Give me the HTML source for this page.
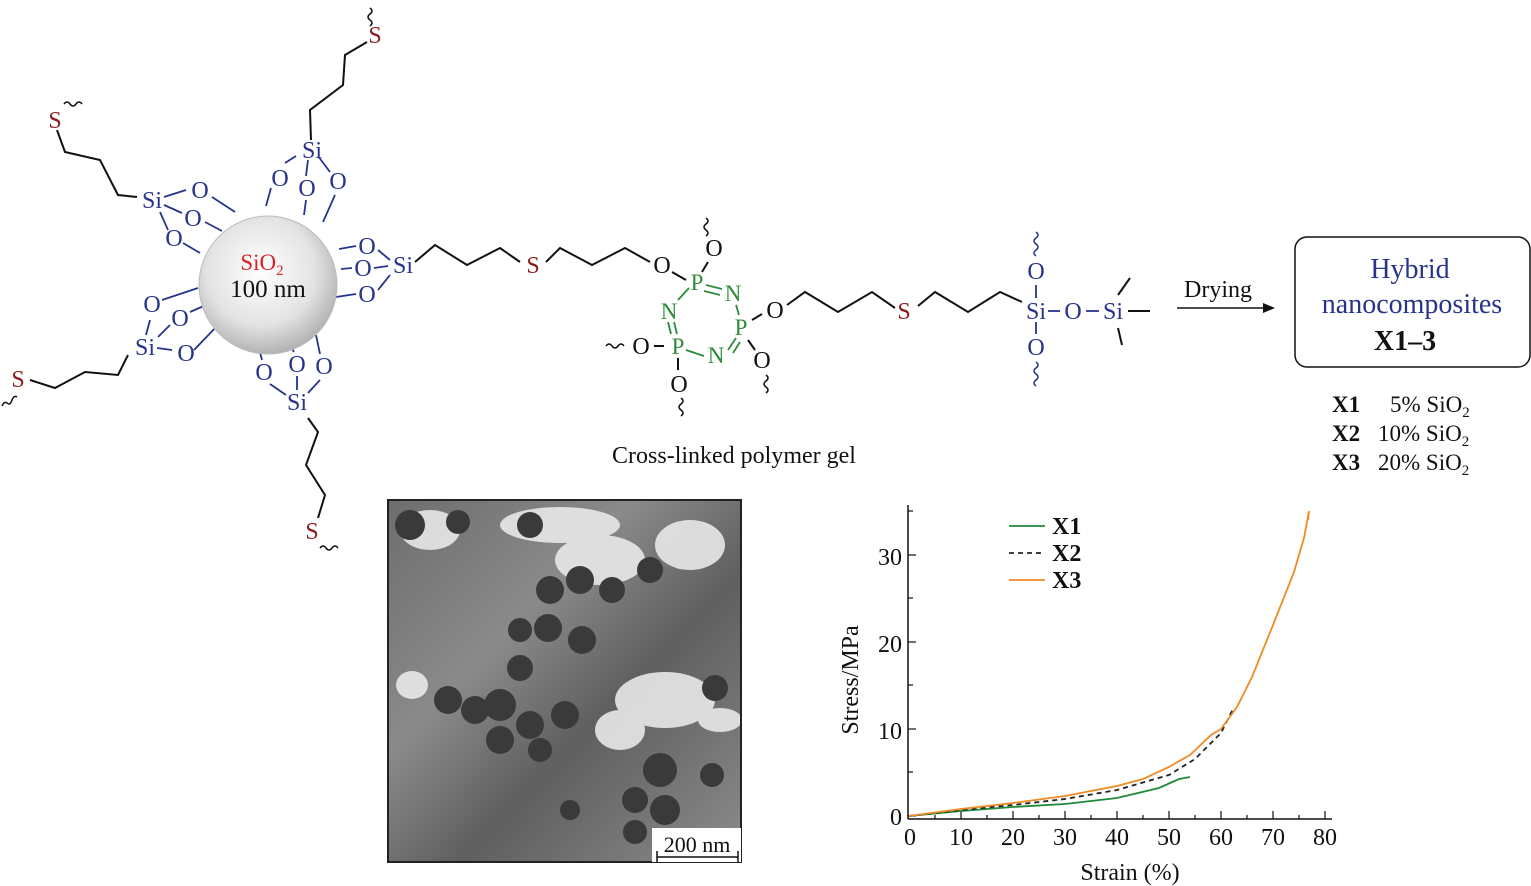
<!DOCTYPE html>
<html><head><meta charset="utf-8"><style>
html,body{margin:0;padding:0;background:#fff}
svg{display:block}
text{font-family:"Liberation Serif",serif}
.b{fill:#27348b}.r{fill:#8b1c1c}.g{fill:#2e8b3a}.k{fill:#111}
</style></head><body>
<svg width="1531" height="886" viewBox="0 0 1531 886" xmlns="http://www.w3.org/2000/svg">
<defs>
<radialGradient id="sp" cx="0.45" cy="0.4" r="0.65">
<stop offset="0" stop-color="#ffffff"/><stop offset="0.6" stop-color="#e3e3e3"/><stop offset="1" stop-color="#a8a8a8"/>
</radialGradient>
<linearGradient id="tem" x1="0" y1="0" x2="1" y2="1">
<stop offset="0" stop-color="#6d6d6d"/><stop offset="0.35" stop-color="#8a8a8a"/><stop offset="0.6" stop-color="#5f5f5f"/><stop offset="1" stop-color="#8c8c8c"/>
</linearGradient>
</defs>

<g fill="none" stroke="#111" stroke-width="2">
<polyline points="311,140 310,110 343,85 345,55 367,42"/>
<polyline points="137,197 118,195 100,160 65,152 57,130"/>
<polyline points="415,262 435,245 467,265 500,248 520,262"/>
<polyline points="546,262 560,248 592,265 625,248 650,262"/>
<polyline points="128,355 118,375 85,372 55,388 30,380"/>
<polyline points="308,418 318,432 306,465 325,495 318,518"/>
<polyline points="787,305 805,292 838,312 872,292 895,308"/>
<polyline points="918,306 935,292 968,312 1000,292 1022,302"/>
<line x1="1128" y1="311" x2="1150" y2="311"/><line x1="1118" y1="295" x2="1130" y2="278"/><line x1="1118" y1="328" x2="1122" y2="345"/>
<line x1="1177" y1="308" x2="1270" y2="308" stroke-width="1.5"/>
<path d="M370 8 q4 3 0 6 q-4 3 0 6 q4 3 0 6" stroke-width="1.5"/>
<path d="M64 104 q3 -4 6 0 q3 4 6 0 q3 -4 6 0" stroke-width="1.5"/>
<path d="M2 406 q2 -5 5 -3 q3 3 5 -3 q2 -5 5 -3" stroke-width="1.5"/>
<path d="M320 548 q3 -4 6 0 q3 4 6 0 q3 -4 6 0" stroke-width="1.5"/>
<path d="M706 218 q4 3 0 6 q-4 3 0 6 q4 3 0 6" stroke-width="1.5"/>
<path d="M606 346 q3 -4 6 0 q3 4 6 0 q3 -4 6 0" stroke-width="1.5"/>
<path d="M681 398 q4 3 0 6 q-4 3 0 6 q4 3 0 6" stroke-width="1.5"/>
<path d="M766 375 q4 3 0 6 q-4 3 0 6 q4 3 0 6" stroke-width="1.5"/>
<line x1="654" y1="346" x2="664" y2="346"/><line x1="678" y1="358" x2="678" y2="370"/><line x1="748" y1="340" x2="755" y2="350"/><line x1="752" y1="320" x2="762" y2="314"/><line x1="708" y1="262" x2="702" y2="272"/><line x1="672" y1="272" x2="686" y2="280"/>
</g>
<polygon points="1275,308 1263,303 1263,313" fill="#111"/>

<g fill="none" stroke="#27348b" stroke-width="1.8">
<line x1="296" y1="156" x2="285" y2="163"/><line x1="308" y1="160" x2="306" y2="176"/><line x1="318" y1="156" x2="330" y2="172"/>
<line x1="271" y1="188" x2="266" y2="206"/><line x1="306" y1="200" x2="304" y2="215"/><line x1="335" y1="195" x2="323" y2="222"/>
<line x1="164" y1="197" x2="186" y2="190"/><line x1="164" y1="205" x2="182" y2="213"/><line x1="160" y1="212" x2="168" y2="230"/>
<line x1="212" y1="197" x2="235" y2="212"/><line x1="205" y1="222" x2="222" y2="231"/><line x1="183" y1="243" x2="200" y2="253"/>
<line x1="339" y1="249" x2="356" y2="246"/><line x1="341" y1="269" x2="352" y2="268"/><line x1="336" y1="297" x2="356" y2="294"/>
<line x1="378" y1="250" x2="390" y2="260"/><line x1="374" y1="268" x2="388" y2="266"/><line x1="378" y1="290" x2="390" y2="275"/>
<line x1="162" y1="300" x2="198" y2="288"/><line x1="190" y1="312" x2="206" y2="305"/><line x1="194" y1="350" x2="218" y2="325"/>
<line x1="150" y1="320" x2="146" y2="335"/><line x1="170" y1="325" x2="158" y2="337"/><line x1="157" y1="348" x2="172" y2="350"/>
<line x1="258" y1="345" x2="262" y2="360"/><line x1="290" y1="345" x2="294" y2="352"/><line x1="316" y1="335" x2="320" y2="354"/>
<line x1="270" y1="384" x2="286" y2="395"/><line x1="297" y1="376" x2="297" y2="390"/><line x1="320" y1="380" x2="308" y2="393"/>
<line x1="1036" y1="285" x2="1036" y2="298"/><line x1="1036" y1="322" x2="1036" y2="334"/><line x1="1048" y1="311" x2="1060" y2="311"/><line x1="1086" y1="311" x2="1099" y2="311"/>
<path d="M1036 232 q4 3 0 6 q-4 3 0 6 q4 3 0 6 q-4 3 0 6" stroke-width="1.5"/>
<path d="M1036 362 q4 3 0 6 q-4 3 0 6 q4 3 0 6 q-4 3 0 6" stroke-width="1.5"/>
</g>
<g fill="none" stroke="#2e8b3a" stroke-width="1.8">
<line x1="706" y1="285" x2="722" y2="289"/><line x1="704" y1="291" x2="720" y2="295"/>
<line x1="689" y1="288" x2="678" y2="300"/><line x1="736" y1="305" x2="739" y2="315"/>
<line x1="668" y1="322" x2="671" y2="334"/><line x1="674" y1="322" x2="677" y2="334"/>
<line x1="686" y1="350" x2="704" y2="356"/><line x1="728" y1="350" x2="736" y2="338"/><line x1="733" y1="353" x2="740" y2="342"/>
</g>

<circle cx="268" cy="285" r="69" fill="url(#sp)" stroke="#bbb" stroke-width="1"/>
<text x="262" y="270" font-size="23" fill="#d8232a" text-anchor="middle">SiO<tspan font-size="15" dy="5">2</tspan></text>
<text x="268" y="297" font-size="25" class="k" text-anchor="middle">100 nm</text>

<g font-size="24" class="b" text-anchor="middle">
<text x="312" y="158">Si</text><text x="280" y="186">O</text><text x="307" y="196">O</text><text x="338" y="189">O</text>
<text x="152" y="208">Si</text><text x="200" y="198">O</text><text x="193" y="226">O</text><text x="174" y="246">O</text>
<text x="403" y="273">Si</text><text x="367" y="254">O</text><text x="363" y="276">O</text><text x="367" y="302">O</text>
<text x="145" y="355">Si</text><text x="152" y="312">O</text><text x="180" y="326">O</text><text x="186" y="361">O</text>
<text x="297" y="410">Si</text><text x="264" y="380">O</text><text x="297" y="372">O</text><text x="324" y="374">O</text>
<text x="1036" y="279">O</text><text x="1036" y="319">Si</text><text x="1073" y="319">O</text><text x="1113" y="319">Si</text><text x="1036" y="355">O</text>
</g>
<g font-size="24" class="r" text-anchor="middle">
<text x="375" y="43">S</text><text x="55" y="128">S</text><text x="533" y="273">S</text><text x="18" y="387">S</text><text x="312" y="539">S</text><text x="904" y="319">S</text>
</g>
<g font-size="23" class="g" text-anchor="middle">
<text x="697" y="290">P</text><text x="733" y="301">N</text><text x="669" y="319">N</text><text x="741" y="335">P</text><text x="678" y="354">P</text><text x="716" y="363">N</text>
</g>
<g font-size="24" class="k" text-anchor="middle">
<text x="662" y="273">O</text><text x="714" y="256">O</text><text x="775" y="318">O</text><text x="641" y="354">O</text><text x="679" y="392">O</text><text x="762" y="368">O</text>
</g>
<text x="734" y="463" font-size="24" class="k" text-anchor="middle">Cross-linked polymer gel</text>
<text x="1218" y="297" font-size="24" class="k" text-anchor="middle">Drying</text>

<rect x="1295" y="237" width="235" height="130" rx="12" fill="none" stroke="#111" stroke-width="1.5"/>
<text x="1410" y="278" font-size="28" class="b" text-anchor="middle">Hybrid</text>
<text x="1412" y="313" font-size="28" class="b" text-anchor="middle">nanocomposites</text>
<text x="1405" y="350" font-size="28" class="k" font-weight="bold" text-anchor="middle">X1–3</text>
<g font-size="23" class="k">
<text x="1332" y="412" font-weight="bold">X1</text><text x="1390" y="412">5% SiO<tspan font-size="15" dy="5">2</tspan></text>
<text x="1332" y="441" font-weight="bold">X2</text><text x="1378" y="441">10% SiO<tspan font-size="15" dy="5">2</tspan></text>
<text x="1332" y="470" font-weight="bold">X3</text><text x="1378" y="470">20% SiO<tspan font-size="15" dy="5">2</tspan></text>
</g>

<rect x="388" y="500" width="353" height="362" fill="url(#tem)"/>
<g fill="#e8e8e8" opacity="0.9">
<ellipse cx="430" cy="530" rx="30" ry="20"/><ellipse cx="560" cy="525" rx="60" ry="18"/><ellipse cx="600" cy="560" rx="45" ry="25"/><ellipse cx="690" cy="545" rx="35" ry="25"/>
<ellipse cx="665" cy="700" rx="50" ry="28"/><ellipse cx="620" cy="730" rx="25" ry="20"/><ellipse cx="412" cy="685" rx="16" ry="14"/><ellipse cx="720" cy="720" rx="22" ry="12"/>
</g>
<g fill="#3a3a3a">
<circle cx="410" cy="525" r="15"/><circle cx="458" cy="522" r="12"/><circle cx="530" cy="525" r="13"/><circle cx="550" cy="590" r="14"/><circle cx="580" cy="580" r="14"/><circle cx="612" cy="590" r="13"/><circle cx="650" cy="570" r="13"/>
<circle cx="520" cy="630" r="12"/><circle cx="548" cy="628" r="14"/><circle cx="582" cy="640" r="14"/><circle cx="520" cy="668" r="13"/><circle cx="448" cy="700" r="14"/><circle cx="475" cy="710" r="14"/>
<circle cx="500" cy="705" r="16"/><circle cx="530" cy="725" r="14"/><circle cx="565" cy="715" r="14"/><circle cx="500" cy="740" r="14"/><circle cx="540" cy="750" r="12"/><circle cx="715" cy="688" r="13"/>
<circle cx="660" cy="770" r="17"/><circle cx="635" cy="800" r="13"/><circle cx="665" cy="810" r="15"/><circle cx="712" cy="775" r="12"/><circle cx="635" cy="832" r="12"/><circle cx="570" cy="810" r="10"/>
</g>
<rect x="388" y="500" width="353" height="362" fill="none" stroke="#222" stroke-width="2"/>
<rect x="652" y="828" width="89" height="34" fill="#fff"/>
<text x="697" y="852" font-size="22" class="k" text-anchor="middle">200 nm</text>
<g stroke="#111" stroke-width="1.5"><line x1="657" y1="857" x2="738" y2="857"/><line x1="657" y1="851" x2="657" y2="862"/><line x1="738" y1="851" x2="738" y2="862"/></g>

<g stroke="#111" stroke-width="1.5" fill="none">
<line x1="908" y1="505" x2="908" y2="819"/><line x1="908" y1="819" x2="1332" y2="819"/>
</g>
<g stroke="#111" stroke-width="1.2">
<line x1="908" y1="816" x2="916" y2="816"/><line x1="908" y1="772" x2="913" y2="772"/><line x1="908" y1="729" x2="916" y2="729"/><line x1="908" y1="685" x2="913" y2="685"/><line x1="908" y1="642" x2="916" y2="642"/><line x1="908" y1="598" x2="913" y2="598"/><line x1="908" y1="555" x2="916" y2="555"/><line x1="908" y1="511" x2="913" y2="511"/>
<line x1="961" y1="819" x2="961" y2="811"/><line x1="1013" y1="819" x2="1013" y2="811"/><line x1="1065" y1="819" x2="1065" y2="811"/><line x1="1117" y1="819" x2="1117" y2="811"/><line x1="1169" y1="819" x2="1169" y2="811"/><line x1="1221" y1="819" x2="1221" y2="811"/><line x1="1273" y1="819" x2="1273" y2="811"/><line x1="1325" y1="819" x2="1325" y2="811"/>
<line x1="935" y1="819" x2="935" y2="815"/><line x1="987" y1="819" x2="987" y2="815"/><line x1="1039" y1="819" x2="1039" y2="815"/><line x1="1091" y1="819" x2="1091" y2="815"/><line x1="1143" y1="819" x2="1143" y2="815"/><line x1="1195" y1="819" x2="1195" y2="815"/><line x1="1247" y1="819" x2="1247" y2="815"/><line x1="1299" y1="819" x2="1299" y2="815"/>
</g>
<g font-size="24" class="k" text-anchor="end">
<text x="902" y="825">0</text><text x="902" y="739">10</text><text x="902" y="652">20</text><text x="902" y="565">30</text>
</g>
<g font-size="24" class="k" text-anchor="middle">
<text x="910" y="845">0</text><text x="961" y="845">10</text><text x="1013" y="845">20</text><text x="1065" y="845">30</text><text x="1117" y="845">40</text><text x="1169" y="845">50</text><text x="1221" y="845">60</text><text x="1273" y="845">70</text><text x="1325" y="845">80</text>
<text x="1130" y="880">Strain (%)</text>
</g>
<text transform="translate(858,680) rotate(-90)" font-size="24" class="k" text-anchor="middle">Stress/MPa</text>

<g fill="none" stroke-width="1.8">
<polyline stroke="#1f8a3a" points="909,816 961,811 1013,807 1065,804 1117,798 1159,788 1179,779 1190,777"/>
<polyline stroke="#222" stroke-dasharray="5,4" points="909,816 961,810 1013,805 1065,799 1117,790 1169,775 1195,759 1221,733 1234,707"/>
<polyline stroke="#f08a24" points="909,816 961,809 1013,803 1065,796 1117,786 1143,779 1169,767 1190,755 1211,735 1221,729 1237,707 1252,677 1273,625 1294,572 1304,538 1309,511 1308,520"/>
<line x1="1009" y1="526" x2="1045" y2="526" stroke="#1f8a3a"/>
<line x1="1009" y1="553" x2="1045" y2="553" stroke="#222" stroke-dasharray="5,4"/>
<line x1="1009" y1="580" x2="1045" y2="580" stroke="#f08a24"/>
</g>
<g font-size="24" font-weight="bold" class="k">
<text x="1052" y="534">X1</text><text x="1052" y="561">X2</text><text x="1052" y="588">X3</text>
</g>
</svg>
</body></html>
